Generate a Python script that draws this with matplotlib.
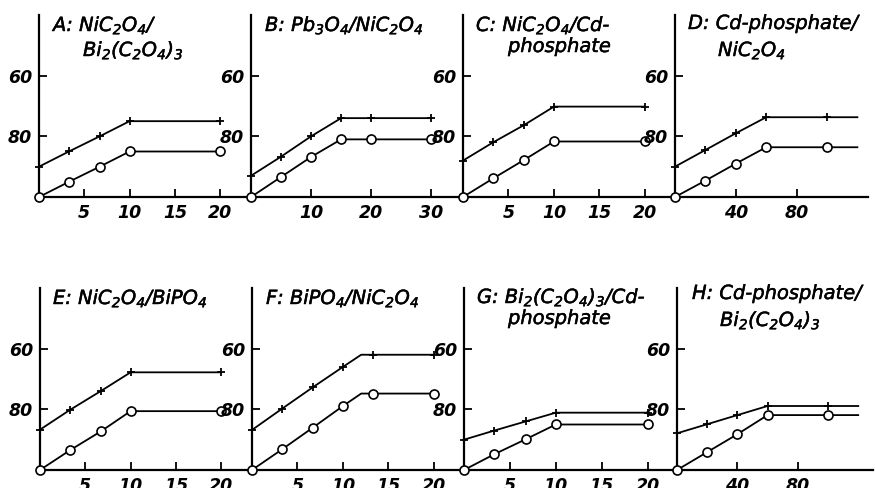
import matplotlib
matplotlib.use("Agg")
import matplotlib.pyplot as plt
import matplotlib.patheffects as pe

plt.rcParams['font.family'] = ['DejaVu Sans']
plt.rcParams['mathtext.fontset'] = 'custom'
plt.rcParams['mathtext.rm'] = 'DejaVu Sans:italic'
plt.rcParams['mathtext.it'] = 'DejaVu Sans:italic'
plt.rcParams['mathtext.default'] = 'rm'

# conversion (%) vs. amount of admixture, one panel per component pair
x_a = [0, 3.3, 6.7, 10, 20]
plus_a = [90, 85, 80, 75, 75]
circ_a = [100, 95, 90, 85, 85]

x_b = [0, 5, 10, 15, 20, 30]
plus_b = [93, 86.7, 80, 74, 74, 74]
circ_b = [100, 93.4, 86.8, 81, 81, 81]

x_c = [0, 3.3, 6.7, 10, 20]
plus_c = [88, 82, 76.3, 70.2, 70.2]
circ_c = [100, 93.9, 87.8, 81.7, 81.7]

x_d = [0, 20, 40, 60, 100, 120]
plus_d = [90, 84.5, 79, 73.7, 73.7, 73.7]
circ_d = [100, 94.6, 89, 83.6, 83.6, 83.6]

x_e = [0, 3.3, 6.7, 10, 20]
plus_e = [86.7, 80.2, 74, 67.8, 67.8]
circ_e = [100, 93.5, 87.3, 80.6, 80.6]

x_f = [0, 3.3, 6.7, 10, 12, 13.3, 20]
plus_f = [86.8, 79.8, 72.7, 66, 62, 62, 62]
circ_f = [100, 93.2, 86, 78.9, 74.8, 74.8, 74.8]

x_g = [0, 3.3, 6.7, 10, 20]
plus_g = [90, 87, 84, 81.1, 81.1]
circ_g = [100, 94.8, 89.9, 85, 85]

x_h = [0, 20, 40, 60, 100, 120]
plus_h = [87.9, 84.9, 81.9, 78.9, 78.9, 78.9]
circ_h = [100, 94.1, 88.2, 81.9, 81.9, 81.9]

y_ticks = [60, 80]
x_ticks_20 = [5, 10, 15, 20]
x_ticks_30 = [10, 20, 30]
x_ticks_120 = [40, 80]

titles = {
    'A': [r'A: NiC$_2$O$_4$/', r'Bi$_2$(C$_2$O$_4$)$_3$'],
    'B': [r'B: Pb$_3$O$_4$/NiC$_2$O$_4$'],
    'C': [r'C: NiC$_2$O$_4$/Cd-', 'phosphate'],
    'D': ['D: Cd-phosphate/', r'NiC$_2$O$_4$'],
    'E': [r'E: NiC$_2$O$_4$/BiPO$_4$'],
    'F': [r'F: BiPO$_4$/NiC$_2$O$_4$'],
    'G': [r'G: Bi$_2$(C$_2$O$_4$)$_3$/Cd-', 'phosphate'],
    'H': ['H: Cd-phosphate/', r'Bi$_2$(C$_2$O$_4$)$_3$'],
}

# name, x, plus, circles, marker indices, x ticks, xmax,
# axes box in pixels (left, top, width, height), title line anchors (x, top)
panels = [
    ('A', x_a, plus_a, circ_a, None, x_ticks_20, 23.4, (39, 15, 212, 182), [(53, 14), (83, 39)]),
    ('B', x_b, plus_b, circ_b, None, x_ticks_30, 35.3, (251, 15, 212, 182), [(265, 14)]),
    ('C', x_c, plus_c, circ_c, None, x_ticks_20, 23.3, (463, 15, 212, 182), [(476, 14), (508, 37)]),
    ('D', x_d, plus_d, circ_d, [0, 1, 2, 3, 4], x_ticks_120, 127, (675, 15, 193, 182), [(688, 14), (718, 39)]),
    ('E', x_e, plus_e, circ_e, None, x_ticks_20, 23.4, (40, 288, 212, 182), [(53, 287)]),
    ('F', x_f, plus_f, circ_f, [0, 1, 2, 3, 5, 6], x_ticks_20, 23.3, (252, 288, 212, 182), [(266, 287)]),
    ('G', x_g, plus_g, circ_g, None, x_ticks_20, 23.2, (464, 288, 213, 182), [(477, 286), (508, 309)]),
    ('H', x_h, plus_h, circ_h, [0, 1, 2, 3, 4], x_ticks_120, 129.8, (677, 288, 196, 182), [(692, 284), (720, 309)]),
]

W, H = 875, 488
fig = plt.figure(figsize=(W / 100, H / 100), dpi=100)

tick_font = dict(fontsize=12.5, fontweight='bold', fontstyle='italic')
ink = [pe.withStroke(linewidth=0.35, foreground='black')]

for name, x, plus, circ, marks, xt, xmax, box, anchors in panels:
    left, top, w, h = box
    ax = fig.add_axes([left / W, 1 - (top + h) / H, w / W, h / H])
    ax.patch.set_alpha(0)
    ax.plot(x, plus, color='black', lw=1.3, marker='+', ms=6, mew=1.3,
            markevery=marks, clip_on=False, zorder=3)
    ax.plot(x, circ, color='black', lw=1.3, marker='o', ms=6.5, mew=1.2,
            mfc='white', markevery=marks, clip_on=False, zorder=3)
    ax.set_xlim(0, xmax)
    ax.set_ylim(100, 40)
    ax.set_xticks(xt)
    ax.set_yticks(y_ticks)
    ax.set_xticklabels([str(v) for v in xt], **tick_font)
    ax.set_yticklabels([str(v) for v in y_ticks], **tick_font)
    ax.tick_params(direction='in', length=6, width=1.3, pad=5)
    for side in ('top', 'right'):
        ax.spines[side].set_visible(False)
    for side in ('left', 'bottom'):
        ax.spines[side].set_linewidth(1.6)
    for line, (tx, ty) in zip(titles[name], anchors):
        fig.text(tx / W, 1 - ty / H, line, fontsize=14, fontstyle='italic',
                 ha='left', va='top', path_effects=ink)

fig.savefig('out.png', dpi=100, facecolor='white')
